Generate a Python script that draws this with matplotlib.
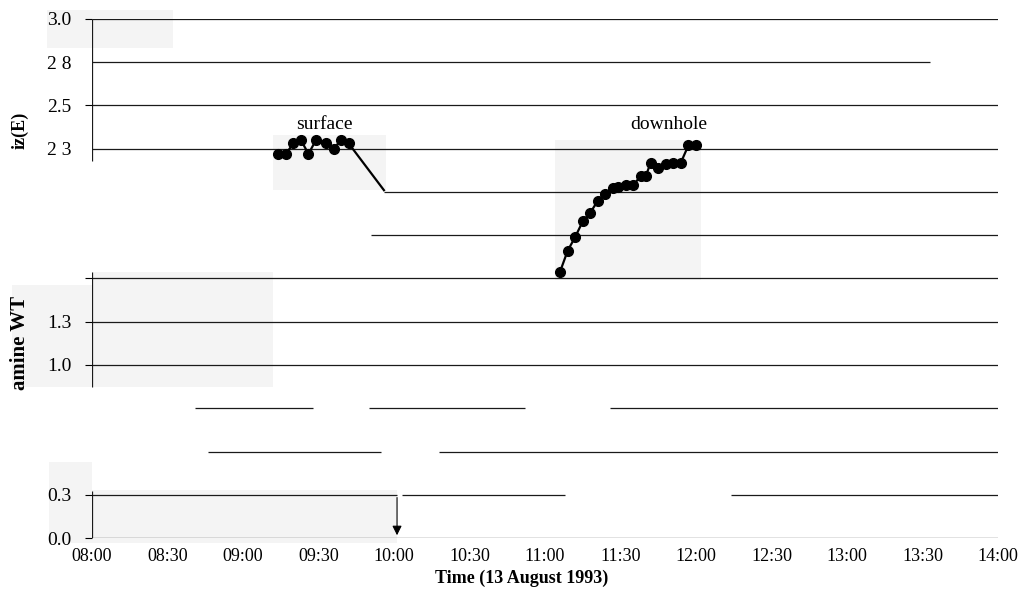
import numpy as np
import matplotlib
matplotlib.use("Agg")
import matplotlib.pyplot as plt
from matplotlib.patches import Rectangle
from matplotlib.ticker import FuncFormatter

plt.rcParams["font.family"] = ["Liberation Serif", "DejaVu Serif"]


def hrs(t):
    h, m = t.split(":")
    return int(h) + int(m) / 60.0


# Data
surface_times = ["09:14", "09:17", "09:20", "09:23", "09:26", "09:29", "09:33",
                 "09:36", "09:39", "09:42", "09:56"]
surface_vals = [2.22, 2.22, 2.28, 2.30, 2.22, 2.30, 2.28, 2.25, 2.30, 2.28, 2.01]

downhole_times = ["11:06", "11:09", "11:12", "11:15", "11:18", "11:21", "11:24",
                  "11:27", "11:29", "11:32", "11:35", "11:38", "11:40", "11:42",
                  "11:45", "11:48", "11:51", "11:54", "11:57", "12:00"]
downhole_vals = [1.54, 1.66, 1.74, 1.83, 1.88, 1.95, 1.99, 2.02, 2.03, 2.04,
                 2.04, 2.09, 2.09, 2.17, 2.14, 2.16, 2.17, 2.17, 2.27, 2.27]

y_ticks = [0.0, 0.25, 0.5, 0.75, 1.0, 1.25, 1.5, 1.75, 2.0, 2.25, 2.5, 2.75, 3.0]
y_tick_labels = ["0.0", "0.3", "", "", "1.0", "1.3", "", "", "", "2 3", "2.5", "2 8", "3.0"]
x_ticks = ["08:00", "08:30", "09:00", "09:30", "10:00", "10:30", "11:00",
           "11:30", "12:00", "12:30", "13:00", "13:30", "14:00"]

# broken horizontal grid lines (value, from, to)
grid_segments = [
    (3.0, "08:00", "14:00"), (2.75, "08:00", "13:33"), (2.5, "08:00", "14:00"),
    (2.25, "08:00", "14:00"), (2.0, "09:56", "14:00"), (1.75, "09:51", "14:00"),
    (1.5, "08:00", "14:00"), (1.25, "08:00", "14:00"), (1.0, "08:00", "14:00"),
    (0.75, "08:41", "09:28"), (0.75, "09:50", "10:52"), (0.75, "11:26", "14:00"),
    (0.5, "08:46", "09:55"), (0.5, "10:18", "14:00"),
    (0.25, "08:00", "10:01"), (0.25, "10:03", "11:08"), (0.25, "12:14", "14:00"),
    (0.0, "08:00", "14:00"),
]

# light grey scan patches (x0, x1, y0, y1)
grey_boxes = [
    ("07:42", "08:32", 2.83, 3.05),
    ("08:00", "09:12", 0.87, 1.54),
    ("07:28", "08:00", 0.87, 1.46),
    ("07:43", "08:00", -0.03, 0.44),
    ("08:00", "10:01", -0.03, 0.28),
    ("09:12", "09:57", 2.01, 2.33),
    ("11:04", "12:02", 1.49, 2.30),
]

fig = plt.figure(figsize=(10.33, 6.10), dpi=100)
ax = fig.add_axes([0.0891, 0.118, 0.877, 0.851])

for x0, x1, y0, y1 in grey_boxes:
    ax.add_patch(Rectangle((hrs(x0), y0), hrs(x1) - hrs(x0), y1 - y0,
                           facecolor="#f4f4f4", edgecolor="none", zorder=0, clip_on=False))

for y, a, b in grid_segments:
    ax.hlines(y, hrs(a), hrs(b), color="#1a1a1a", lw=0.9, zorder=1)

# pieces of the left axis
for y0, y1 in [(2.18, 3.0), (0.87, 1.54), (0.0, 0.27)]:
    ax.vlines(8.0, y0, y1, color="#1a1a1a", lw=0.9, zorder=1)

ax.annotate("", xy=(10.02, 0.0), xytext=(10.02, 0.25),
            arrowprops=dict(arrowstyle="-|>", color="black", lw=0.8, mutation_scale=14))

st = [hrs(t) for t in surface_times]
ax.plot(st, surface_vals, color="black", lw=1.6, marker="o", ms=7,
        markevery=list(range(len(st) - 1)), zorder=3)
dt = [hrs(t) for t in downhole_times]
ax.plot(dt, downhole_vals, color="black", lw=1.6, marker="o", ms=7, zorder=3)

ax.text(9.54, 2.39, "surface", ha="center", va="center", fontsize=14)
ax.text(11.82, 2.39, "downhole", ha="center", va="center", fontsize=14)

ax.set_xlim(8.0, 14.0)
ax.set_ylim(0.0, 3.0)
for s in ax.spines.values():
    s.set_visible(False)

ax.set_yticks(y_ticks)
ax.set_yticklabels(y_tick_labels)
ax.tick_params(axis="y", length=5, width=0.8, pad=10, labelsize=14)
for i, t in enumerate(ax.yaxis.get_major_ticks()):
    if i not in (0, 1, 4, 5, 6, 10, 12):
        t.tick1line.set_visible(False)

ax.set_xticks([hrs(t) for t in x_ticks])
ax.xaxis.set_major_formatter(FuncFormatter(lambda v, p: "%02d:%02d" % (int(v), round((v % 1) * 60))))
ax.tick_params(axis="x", length=0, pad=7, labelsize=13)

fig.text(0.505, 0.052, "Time (13 August 1993)", ha="center", va="center",
         fontsize=13, fontweight="bold")
fig.text(0.019, 0.787, "iz(E)", rotation=90, ha="center", va="center",
         fontsize=13, fontweight="bold")
fig.text(0.019, 0.36, "amine WT", rotation=90, ha="center", va="bottom",
         fontsize=15, fontweight="bold")

fig.savefig("out.png", dpi=100)
